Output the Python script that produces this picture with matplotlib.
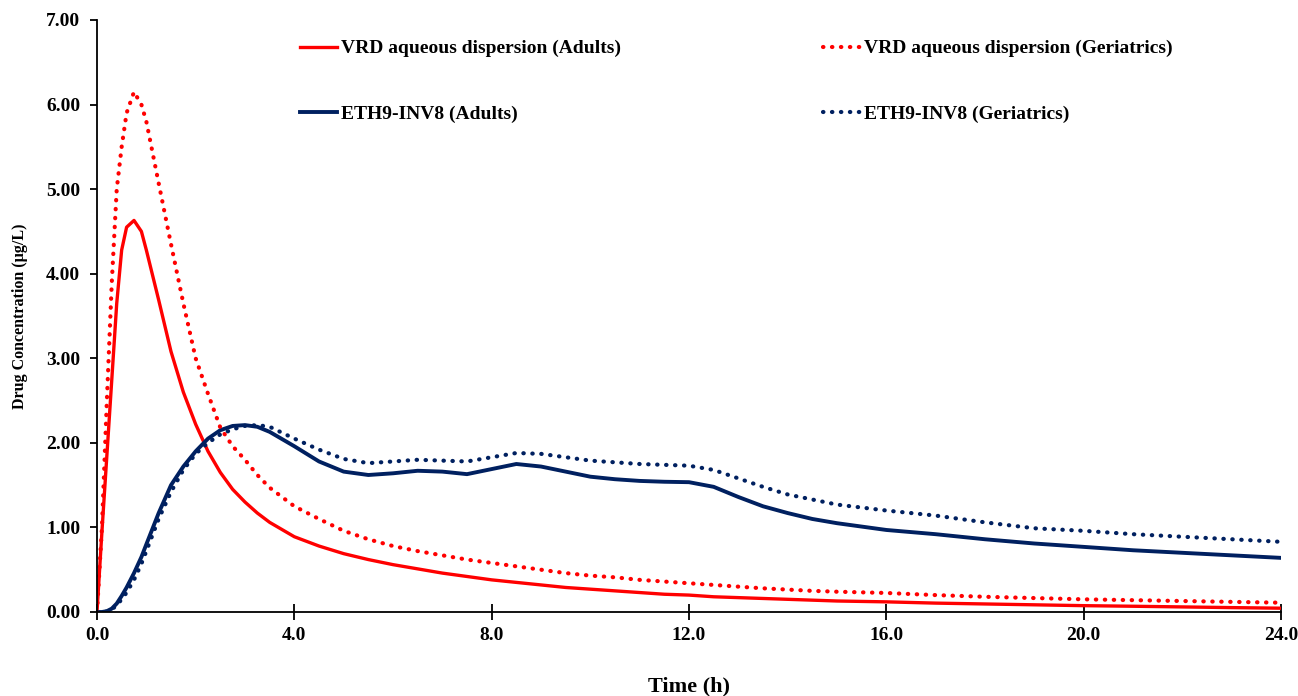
import matplotlib.pyplot as plt
import matplotlib.ticker as mticker

# Datos
t = [0, 0.1, 0.2, 0.3, 0.4, 0.5, 0.6, 0.75, 0.9, 1.0, 1.25, 1.5, 1.75, 2.0, 2.25, 2.5,
     2.75, 3.0, 3.25, 3.5, 4.0, 4.5, 5.0, 5.5, 6.0, 6.5, 7.0, 7.5, 8.0, 8.5, 9.0, 9.5,
     10, 10.5, 11, 11.5, 12, 12.5, 13, 13.5, 14, 14.5, 15, 16, 17, 18, 19, 20, 21, 22, 23, 24]

vrd_adults = [0, 0.95, 1.85, 2.75, 3.65, 4.28, 4.55, 4.63, 4.5, 4.28, 3.69, 3.08, 2.6, 2.22,
              1.9, 1.65, 1.45, 1.30, 1.17, 1.06, 0.89, 0.78, 0.69, 0.62, 0.56, 0.51, 0.46,
              0.42, 0.38, 0.35, 0.32, 0.29, 0.27, 0.25, 0.23, 0.21, 0.20, 0.18, 0.17, 0.16,
              0.15, 0.14, 0.13, 0.12, 0.105, 0.095, 0.085, 0.075, 0.068, 0.06, 0.052, 0.045]

vrd_geri = [0, 1.0, 2.5, 3.9, 5.0, 5.5, 5.9, 6.15, 6.0, 5.8, 5.07, 4.35, 3.65, 3.0,
            2.58, 2.18, 1.96, 1.8, 1.62, 1.47, 1.25, 1.1, 0.96, 0.86, 0.78, 0.72, 0.67,
            0.62, 0.58, 0.54, 0.5, 0.46, 0.43, 0.41, 0.38, 0.36, 0.34, 0.32, 0.30, 0.28,
            0.265, 0.25, 0.24, 0.225, 0.2, 0.18, 0.165, 0.15, 0.14, 0.13, 0.12, 0.11]

eth_adults = [0, 0, 0.01, 0.04, 0.1, 0.19, 0.29, 0.46, 0.65, 0.8, 1.17, 1.5, 1.72, 1.9,
              2.05, 2.15, 2.2, 2.21, 2.19, 2.13, 1.96, 1.78, 1.66, 1.62, 1.64, 1.67, 1.66,
              1.63, 1.69, 1.75, 1.72, 1.66, 1.6, 1.57, 1.55, 1.54, 1.535, 1.48, 1.36, 1.25,
              1.17, 1.1, 1.05, 0.97, 0.92, 0.86, 0.81, 0.77, 0.73, 0.70, 0.67, 0.64]

eth_geri = [0, 0, 0.005, 0.03, 0.08, 0.15, 0.23, 0.38, 0.57, 0.72, 1.1, 1.42, 1.68, 1.87,
            2.0, 2.1, 2.16, 2.2, 2.21, 2.19, 2.05, 1.92, 1.81, 1.76, 1.78, 1.80, 1.79,
            1.78, 1.83, 1.88, 1.87, 1.83, 1.79, 1.77, 1.75, 1.74, 1.73, 1.68, 1.58, 1.48,
            1.39, 1.33, 1.27, 1.2, 1.14, 1.06, 0.99, 0.96, 0.92, 0.89, 0.86, 0.83]

rojo = '#FF0000'
azul = '#002060'
punteado = (0, (0.1, 2.05))

plt.rcParams['font.family'] = ['Liberation Serif', 'DejaVu Serif']
plt.rcParams['font.weight'] = 'bold'

fig = plt.figure(figsize=(12.98, 6.96), dpi=100)
ax = fig.add_axes([97 / 1298, 1 - 612 / 696, (1281 - 97) / 1298, (612 - 20) / 696])

ax.plot(t, vrd_adults, color=rojo, lw=2.4, label='VRD aqueous dispersion (Adults)')
ax.plot(t, eth_adults, color=azul, lw=2.8, label='ETH9-INV8 (Adults)')
ax.plot(t, vrd_geri, color=rojo, lw=3.0, linestyle=punteado, dash_capstyle='round',
        label='VRD aqueous dispersion (Geriatrics)')
ax.plot(t, eth_geri, color=azul, lw=3.0, linestyle=punteado, dash_capstyle='round',
        label='ETH9-INV8 (Geriatrics)')

ax.set_xlim(0, 24)
ax.set_ylim(0, 7)
ax.set_xticks(range(0, 25, 4))
ax.set_yticks(range(0, 8))
ax.xaxis.set_major_formatter(mticker.FuncFormatter(lambda v, _: f'{v:.1f}'))
ax.yaxis.set_major_formatter(mticker.FuncFormatter(lambda v, _: f'{v:.2f}'))
ax.tick_params(axis='x', direction='inout', length=11, width=1.3, labelsize=14, pad=5)
ax.tick_params(axis='y', direction='out', length=5, width=1.3, labelsize=14, pad=7)
for lbl in ax.get_xticklabels() + ax.get_yticklabels():
    lbl.set_fontweight('bold')

ax.spines['top'].set_visible(False)
ax.spines['right'].set_visible(False)
ax.spines['left'].set_linewidth(1.3)
ax.spines['bottom'].set_linewidth(1.3)

ax.set_xlabel('Time (h)', fontsize=16, fontweight='bold', labelpad=24)
ax.set_ylabel('Drug Concentration (µg/L)', fontsize=11.5, fontweight='bold', labelpad=13)

ax.legend(ncol=2, frameon=False, loc='upper left', bbox_to_anchor=(0.1714, 0.9666),
          borderpad=0, borderaxespad=0, handlelength=1.9, handletextpad=0.2,
          columnspacing=10.4, labelspacing=2.44, prop={'weight': 'bold', 'size': 14})

fig.savefig('out.png', dpi=100)
